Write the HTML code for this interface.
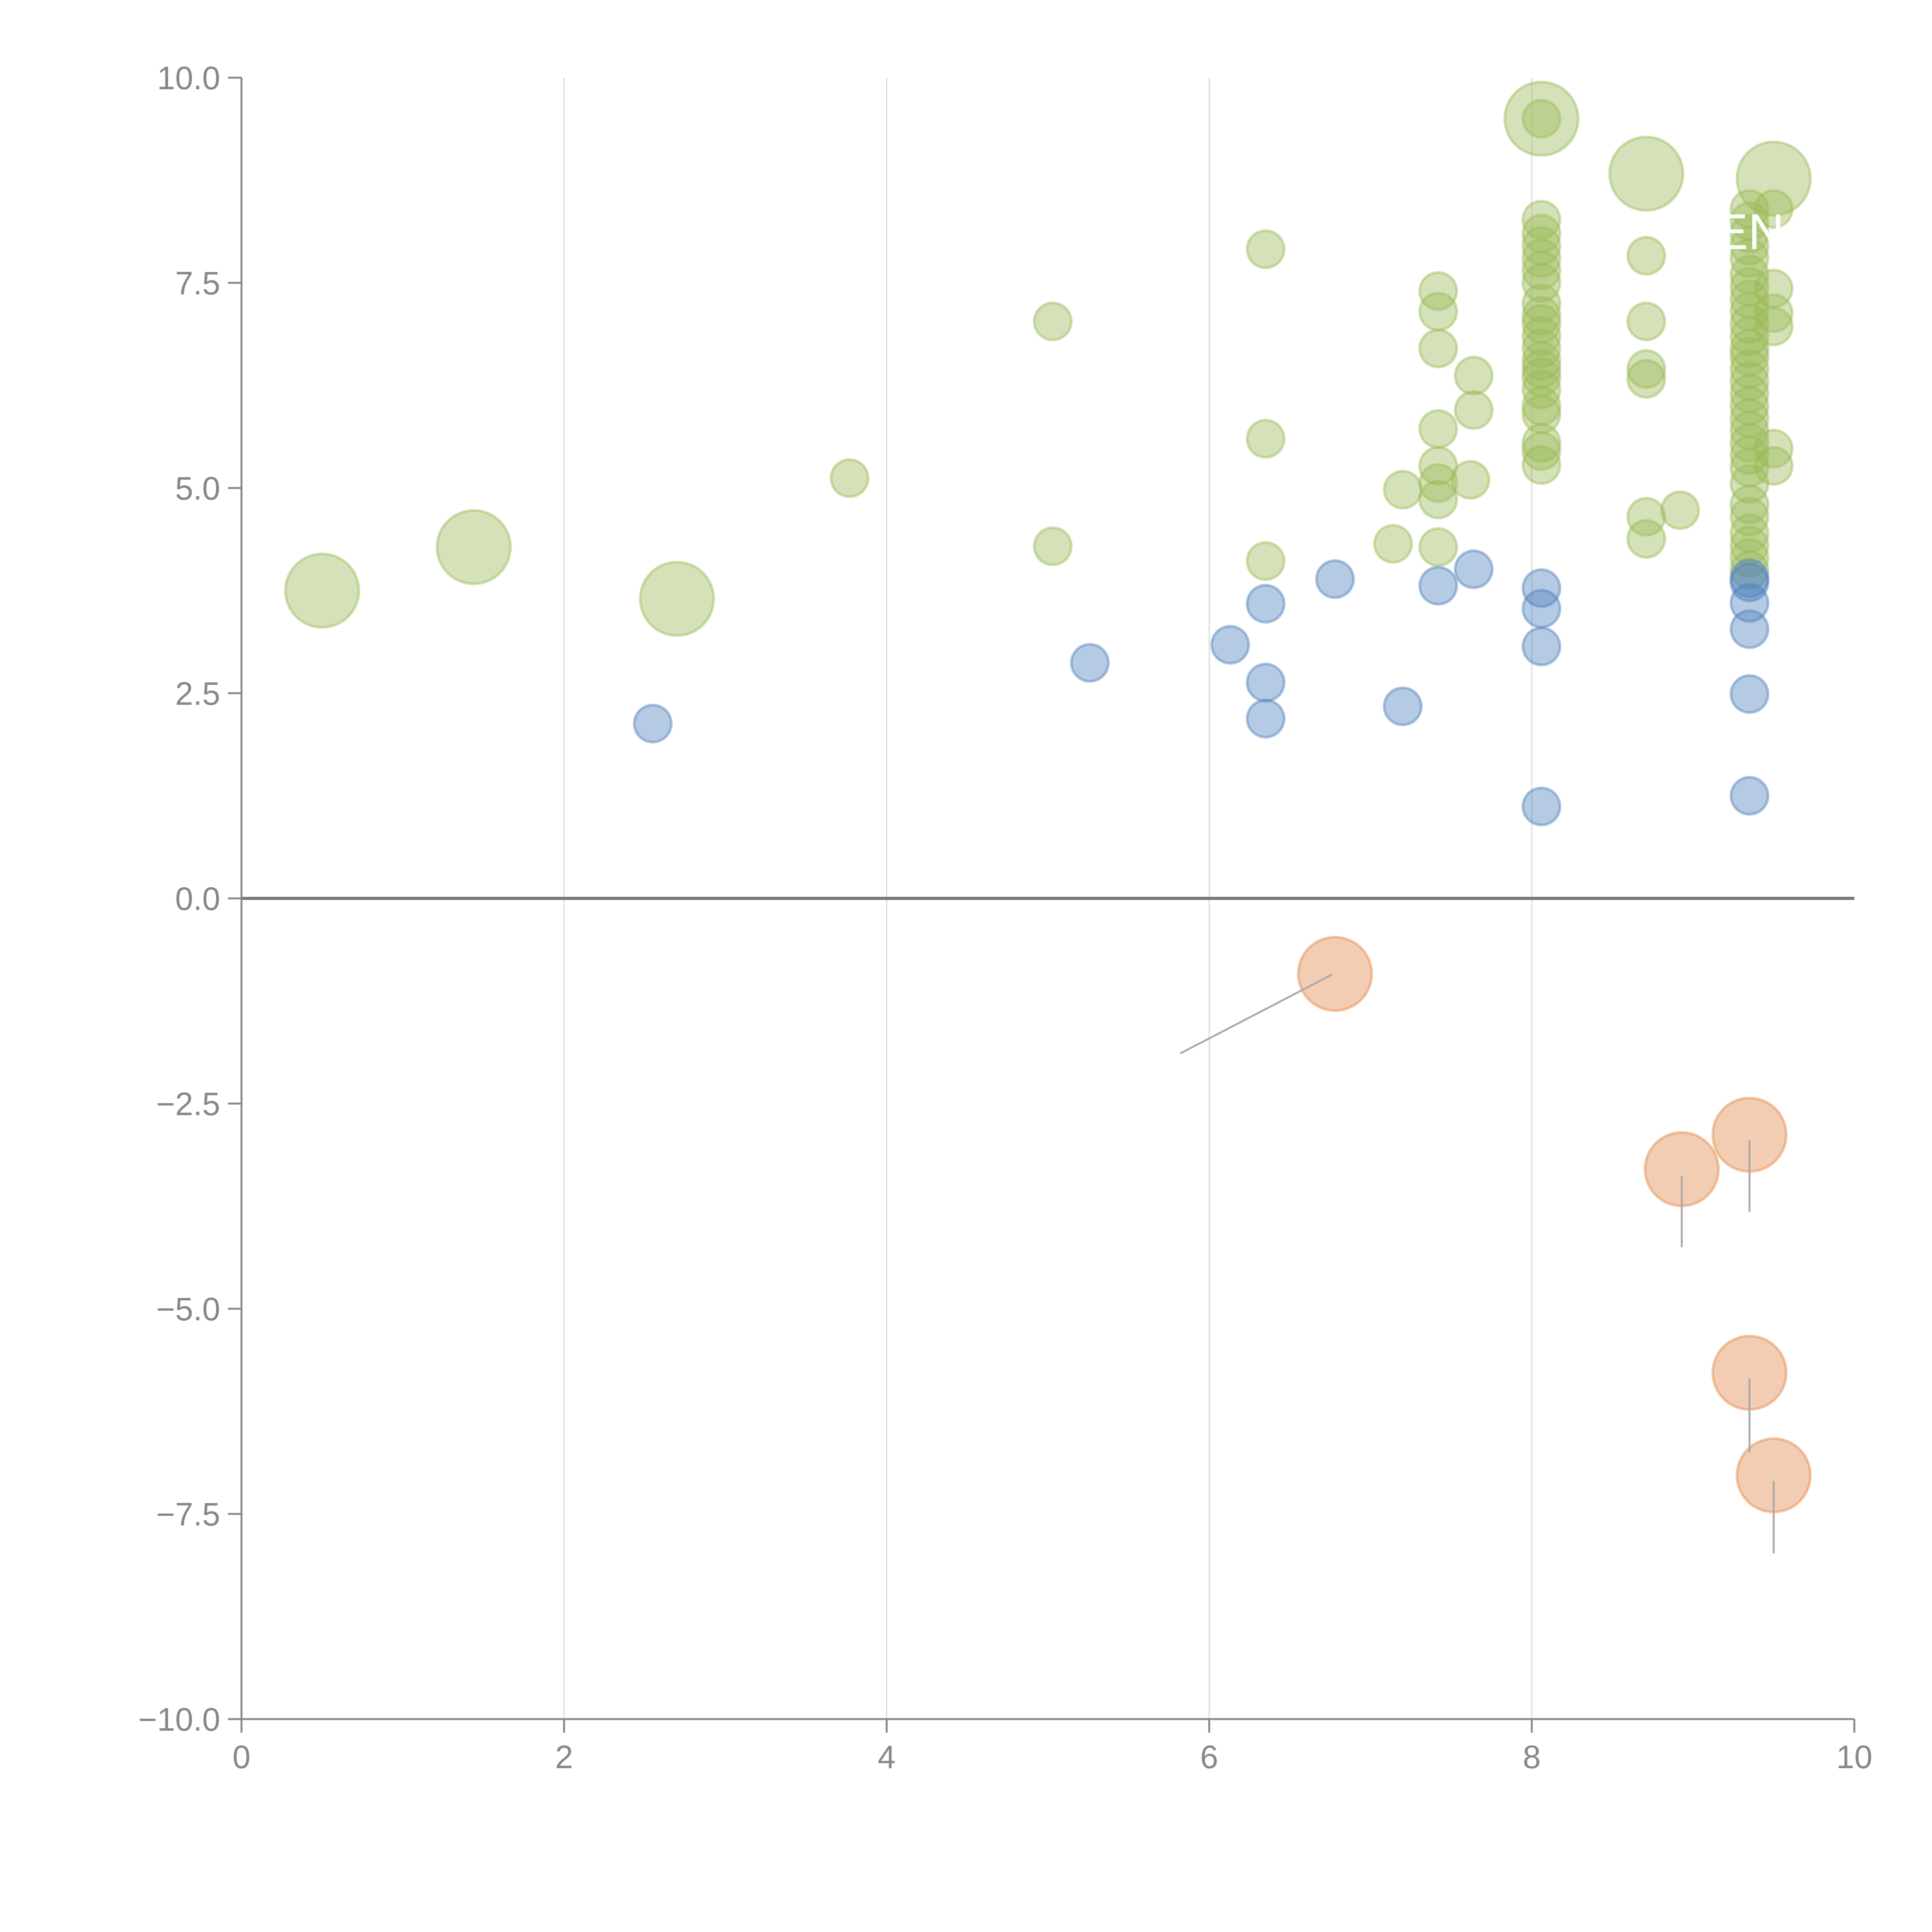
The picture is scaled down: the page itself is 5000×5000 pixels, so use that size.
<!DOCTYPE html>
<html><head><meta charset="utf-8"><style>
html,body{margin:0;padding:0;background:#fff;width:5000px;height:5000px;overflow:hidden}
svg{display:block}
svg text{font-family:"Liberation Sans",sans-serif}
</style></head><body>
<svg id="chart" width="5000" height="5000" viewBox="0 0 5000 5000" xmlns="http://www.w3.org/2000/svg">
<g id="grid"></g>
<g id="marks"></g>
<g id="axes"></g>
</svg>
<script>
const xTicks=[0,2,4,6,8,10];
const xTickLabels=["0","2","4","6","8","10"];
const yTicks=[10,7.5,5,2.5,0,-2.5,-5,-7.5,-10];
const yTickLabels=["10.0","7.5","5.0","2.5","0.0","\u22122.5","\u22125.0","\u22127.5","\u221210.0"];
const greenBigX=[0.5,1.44,2.7,8.06,8.71,9.5];
const greenBigY=[3.75,4.28,3.65,9.5,8.83,8.77];
const greenX=[3.77,5.03,5.03,6.35,6.35,6.35,7.14,7.2,7.42,7.42,7.42,7.42,7.42,7.42,7.42,7.42,7.64,7.64,7.62,
8.06,8.06,8.06,8.06,8.06,8.06,8.06,8.06,8.06,8.06,8.06,8.06,8.06,8.06,8.06,8.06,8.06,8.06,8.06,8.06,8.06,
8.71,8.71,8.71,8.71,8.71,8.71,8.92,
9.35,9.35,9.35,9.35,9.35,9.35,9.35,9.35,9.35,9.35,9.35,9.35,9.35,9.35,9.35,9.35,9.35,9.35,9.35,9.35,9.35,9.35,9.35,9.35,9.35,9.35,9.35,9.35,9.35,
9.5,9.5,9.5,9.5,9.5,9.5];
const greenY=[5.12,7.03,4.29,7.91,5.6,4.11,4.32,4.98,7.4,7.15,6.7,5.72,5.27,5.06,4.86,4.28,6.37,5.95,5.1,
9.5,8.27,8.1,7.95,7.8,7.65,7.5,7.25,7.1,7.0,6.85,6.7,6.55,6.45,6.35,6.2,6.0,5.9,5.55,5.45,5.28,
7.83,7.03,6.45,6.33,4.65,4.38,4.73,
8.4,8.25,8.1,7.95,7.8,7.6,7.45,7.3,7.15,7.0,6.85,6.7,6.6,6.45,6.3,6.15,6.0,5.85,5.7,5.55,5.4,5.25,5.05,4.8,4.65,4.45,4.3,4.15,4.0,
8.4,7.43,7.13,6.97,5.48,5.27];
const blueX=[2.55,5.26,6.13,6.35,6.35,6.35,6.78,7.2,7.42,7.64,8.06,8.06,8.06,8.06,9.35,9.35,9.35,9.35,9.35,9.35];
const blueY=[2.13,2.87,3.09,3.59,2.63,2.19,3.89,2.34,3.81,4.01,3.78,3.53,3.07,1.12,3.9,3.85,3.6,3.28,2.49,1.25];
const orangeX=[6.78,8.93,9.35,9.35,9.5];
const orangeY=[-0.92,-3.3,-2.88,-5.78,-7.03];
const leaderX1=[6.76,8.93,9.35,9.35,9.5];
const leaderY1=[-0.93,-3.38,-2.95,-5.85,-7.1];
const leaderX2=[5.82,8.93,9.35,9.35,9.5];
const leaderY2=[-1.89,-4.25,-3.82,-6.75,-7.98];

const X0=625,X1=4799,Y0=4449,Y1=201;
const sx=v=>X0+(v-0)/(10-0)*(X1-X0);
const sy=v=>Y0-(v+10)/20*(Y0-Y1);
const NS="http://www.w3.org/2000/svg";
function mk(tag,parent,attrs){const e=document.createElementNS(NS,tag);for(const k in attrs)e.setAttribute(k,attrs[k]);parent.appendChild(e);return e;}
const grid=document.getElementById('grid'),marks=document.getElementById('marks'),axes=document.getElementById('axes');

xTicks.forEach((t,i)=>{
  if(t>0&&t<10){const g=mk('line',grid,{x1:sx(t),x2:sx(t),y1:Y1,y2:Y0,stroke:'#d9d9d9','stroke-width':3});
  
  }
  const tk=mk('line',axes,{x1:sx(t),x2:sx(t),y1:Y0,y2:Y0+35,stroke:'#888','stroke-width':5});
  
  
  const tx=mk('text',axes,{x:sx(t),y:Y0+127,'text-anchor':'middle','font-size':84,fill:'#888'});
  tx.textContent=xTickLabels[i];
  
  
});
yTicks.forEach((t,i)=>{
  const tk=mk('line',axes,{x1:X0-35,x2:X0,y1:sy(t),y2:sy(t),stroke:'#888','stroke-width':5});
  
  
  const tx=mk('text',axes,{x:X0-55,y:sy(t)+30,'text-anchor':'end','font-size':84,fill:'#888'});
  tx.textContent=yTickLabels[i];
  
  
});
function bubble(x,y,r,fill,name){
  const c=mk('circle',marks,{cx:sx(x),cy:sy(y),r:r,fill:fill,'fill-opacity':0.42,stroke:fill,'stroke-opacity':0.45,'stroke-width':7});
  
  
}
greenX.forEach((x,i)=>bubble(x,greenY[i],48,'#9bbb59','green-bubble'));
blueX.forEach((x,i)=>bubble(x,blueY[i],48,'#4f81bd','blue-bubble'));
greenBigX.forEach((x,i)=>bubble(x,greenBigY[i],95,'#9bbb59','green-large-bubble'));
orangeX.forEach((x,i)=>bubble(x,orangeY[i],95,'#e2894a','orange-bubble'));
leaderX1.forEach((x,i)=>{
  const l=mk('line',marks,{x1:sx(x),y1:sy(leaderY1[i]),x2:sx(leaderX2[i]),y2:sy(leaderY2[i]),stroke:'#aaa','stroke-width':5});
  
  
});
const zl=mk('line',axes,{x1:X0,x2:X1,y1:sy(0),y2:sy(0),stroke:'#777','stroke-width':8});


const ya=mk('line',axes,{x1:X0,x2:X0,y1:Y1,y2:Y0,stroke:'#888','stroke-width':5});


const xa=mk('line',axes,{x1:X0,x2:X1,y1:Y0,y2:Y0,stroke:'#888','stroke-width':5});


const lb=mk('text',axes,{x:sx(9.35),y:sy(8.1)+40,'text-anchor':'middle','font-size':130,fill:'#fff'});
lb.textContent='EN';


</script>
</body></html>
